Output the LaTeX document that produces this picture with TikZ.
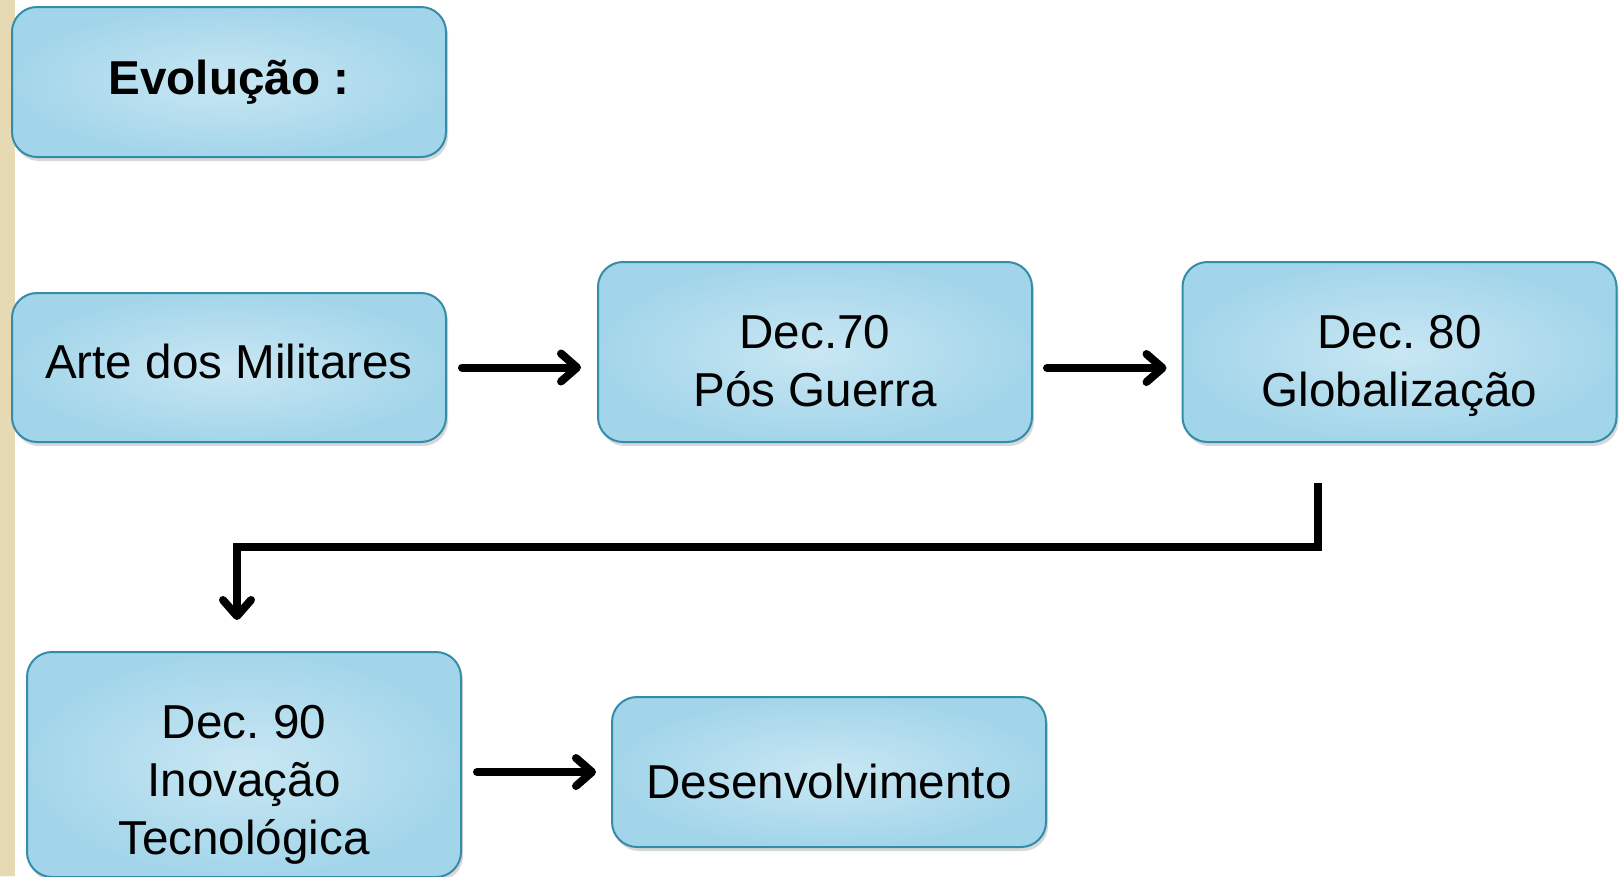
\documentclass[tikz,border=0pt]{standalone}
\usepackage{fontspec}
\setmainfont{Liberation Sans}
\frenchspacing
\usetikzlibrary{arrows.meta,shadows,calc,patterns}
\definecolor{boxin}{RGB}{201,231,243}
\definecolor{boxout}{RGB}{163,213,234}
\definecolor{boxline}{RGB}{52,140,168}
\definecolor{stripbg}{RGB}{233,221,183}
\definecolor{stripdot}{RGB}{214,198,152}
\tikzset{
  box/.style={rectangle, rounded corners=18.75pt, draw=boxline, line width=1.5pt,
    inner color=boxin, outer color=boxout, minimum width=325.5pt,
    drop shadow={shadow xshift=1.5pt, shadow yshift=-3pt, opacity=0.3}},
  boxtext/.style={align=center, font=\fontsize{35.7}{43.5}\selectfont, text=black, inner sep=0pt},
  conn/.style={line width=6pt, line cap=round, line join=miter,
    -{Straight Barb[length=12pt,width=21pt,line cap=round,line join=round]}},
  elbow/.style={line width=6pt, line cap=rect, line join=miter,
    -{Straight Barb[length=12pt,width=21pt,line cap=round,line join=round]}}
}
\begin{document}
\begin{tikzpicture}[x=0.75pt,y=-0.75pt]
\useasboundingbox (0,0) rectangle (1624,876);
\clip (0,0) rectangle (1624,876);
\fill[white] (0,0) rectangle (1624,876);
\fill[stripbg] (0,0) rectangle (15,876);
\fill[pattern=crosshatch dots, pattern color=stripdot] (0,0) rectangle (15,876);

\node[box, minimum height=112.5pt] (evo) at (229,82) {};
\node[boxtext] (evot) at (229,82) {\textbf{Evolução :}};
\node[box, minimum height=111.75pt] (arte) at (229,367.5) {};
\node[boxtext] (artet) at (229,361) {Arte dos Militares};
\node[box, minimum height=135pt] (d70) at (815,352) {};
\node[boxtext, anchor=base] (d70t) at (815,406) {Dec.70\\Pós Guerra};
\node[box, minimum height=135pt] (d80) at (1399.5,352) {};
\node[boxtext, anchor=base] (d80t) at (1399.5,406) {Dec. 80\\Globalização};
\node[box, minimum height=168.75pt] (d90) at (244,764.5) {};
\node[boxtext] (d90t) at (244,785) {Dec. 90\\Inovação\\Tecnológica};
\node[box, minimum height=112.5pt] (des) at (829,772) {};
\node[boxtext] (dest) at (829,781) {Desenvolvimento};

\coordinate (e1) at (1318,487);
\coordinate (em) at (800,547);
\coordinate (e2) at (237,620);

\draw[conn] ($(arte.east)+(15,0)$) -- ($(arte.east -| d70.west)+(-16,0)$);
\draw[conn] ($(d70.east)+(14,16)$) -- ($(d70.east -| d80.west)+(-15,16)$);
\draw[elbow] (e1) |- (em) -| (e2);
\draw[conn] ($(d90.east |- des.west)+(15,0)$) -- ($(des.west)+(-15,0)$);
\end{tikzpicture}
\end{document}
